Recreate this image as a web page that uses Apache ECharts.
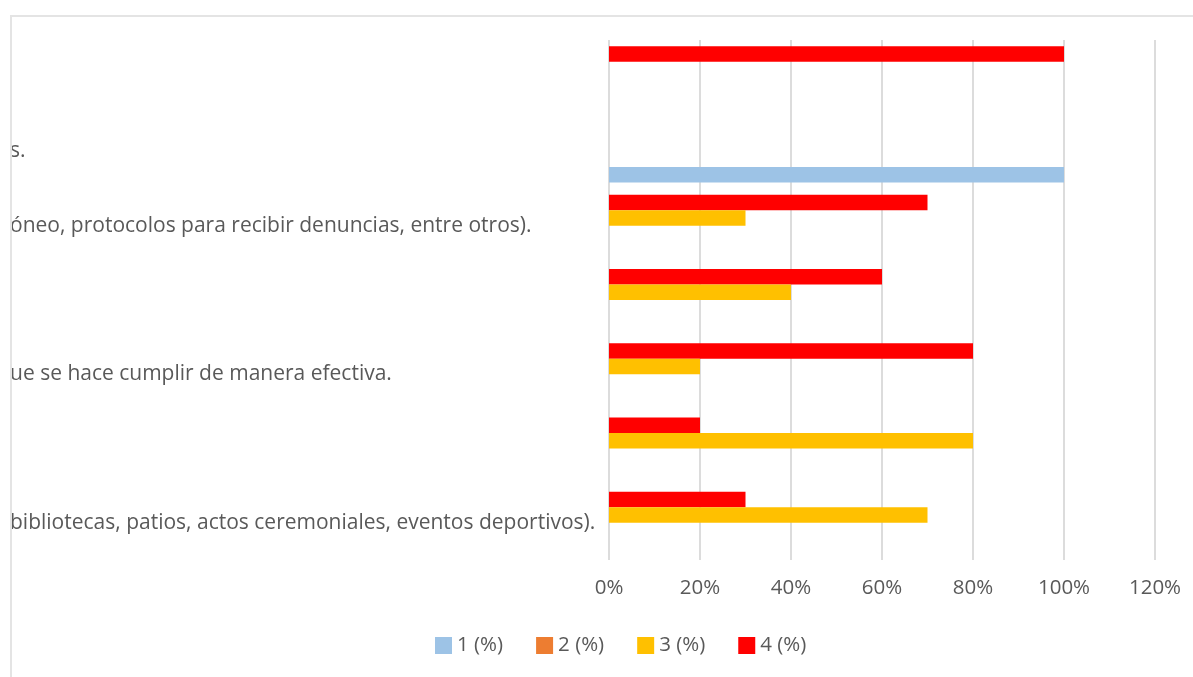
<!DOCTYPE html>
<html>
<head>
<meta charset="utf-8">
<title>Distribución de respuestas (%)</title>
<script src="https://cdn.jsdelivr.net/npm/echarts@6/dist/echarts.min.js"></script>
<style>
  html, body { margin: 0; padding: 0; background: #fff; overflow: hidden; }
  #chart { position: absolute; left: 0; top: 0; width: 1193px; height: 677px; }
  #frame { position: absolute; left: 10px; top: 15px; width: 1200px; height: 680px;
           border-top: 2px solid #e4e4e4; border-left: 2px solid #e4e4e4; pointer-events: none; }
</style>
</head>
<body>
<div id="chart"></div>
<div id="frame"></div>
<script>
// Category labels, listed from the bottom row upward
const categories = [
  'bibliotecas, patios, actos ceremoniales, eventos deportivos).',
  ' ',
  'ue se hace cumplir de manera efectiva.',
  '  ',
  'óneo, protocolos para recibir denuncias, entre otros).',
  's.',
  '   '
];

// Share of answers per level (%), same order as categories
const level1 = [0, 0, 0, 0, 0, 100, 0];
const level2 = [0, 0, 0, 0, 0, 0, 0];
const level3 = [70, 80, 20, 40, 30, 0, 0];
const level4 = [30, 20, 80, 60, 70, 0, 100];

const seriesNames = ['1 (%)', '2 (%)', '3 (%)', '4 (%)'];
const seriesColors = ['#9DC3E6', '#ED7D31', '#FFC000', '#FF0000'];
const xTicks = { min: 0, max: 120, interval: 20 };

const textColor = '#595959';
const font = 'Open Sans';

const chart = echarts.init(document.getElementById('chart'), null, { renderer: 'canvas' });

const values = [level1, level2, level3, level4];
// Highest level drawn first so it sits on top within each group
const series = [3, 2, 1, 0].map(i => ({
  name: seriesNames[i],
  type: 'bar',
  data: values[i],
  barWidth: 15.5,
  barGap: '0%',
  itemStyle: { color: seriesColors[i] },
  emphasis: { disabled: true }
}));

chart.setOption({
  animation: false,
  backgroundColor: '#ffffff',
  textStyle: { fontFamily: font, color: textColor },
  grid: { left: 609, right: 38, top: 40, bottom: 117, containLabel: false },
  xAxis: {
    type: 'value',
    min: xTicks.min,
    max: xTicks.max,
    interval: xTicks.interval,
    axisLine: { show: false },
    axisTick: { show: false },
    axisLabel: {
      formatter: '{value}%',
      color: textColor,
      fontFamily: font,
      fontSize: 20.5,
      margin: 18
    },
    splitLine: { show: true, lineStyle: { color: '#dcdcdc', width: 2 } }
  },
  yAxis: {
    type: 'category',
    data: categories,
    axisLine: { show: false },
    axisTick: { show: false },
    axisLabel: {
      interval: 0,
      align: 'left',
      margin: 599,
      color: textColor,
      fontFamily: font,
      fontSize: 21,
      padding: [10, 0, 0, 0]
    }
  },
  legend: {
    data: seriesNames,
    left: 430,
    top: 630,
    itemWidth: 17,
    itemHeight: 17,
    itemGap: 33,
    icon: 'rect',
    textStyle: { color: textColor, fontFamily: font, fontSize: 20.5 }
  },
  series: series
});
</script>
</body>
</html>
